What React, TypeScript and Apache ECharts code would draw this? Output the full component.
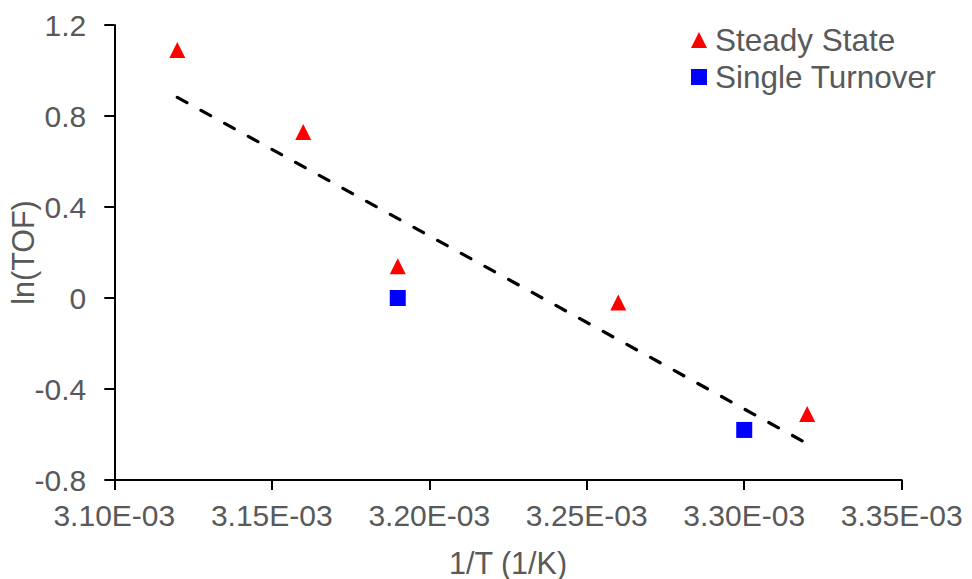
import React, { useEffect, useRef } from "react";
import * as echarts from "echarts";

// 1/T (1/K) and ln(TOF) values
const steadyX = [0.00312, 0.00316, 0.00319, 0.00326, 0.00332];
const steadyY = [1.09, 0.73, 0.14, -0.02, -0.51];
const singleX = [0.00319, 0.0033];
const singleY = [0.0, -0.58];
// linear trendline end points (as drawn)
const trendX = [0.00312, 0.00332];
const trendY = [0.882, -0.64];

const xTicks = { min: 0.0031, max: 0.00335, interval: 0.00005 };
const yTicks = { min: -0.8, max: 1.2, interval: 0.4 };

const FONT = '"Liberation Sans", Arial, sans-serif';
const GREY = "#595959";

function fmtSci(v: number): string {
  const s = v.toExponential(2);
  const [m, e] = s.split("e");
  const n = parseInt(e, 10);
  const sign = n < 0 ? "-" : "+";
  return m + "E" + sign + String(Math.abs(n)).padStart(2, "0");
}

export default function App() {
  const ref = useRef<HTMLDivElement>(null);
  useEffect(() => {
    if (!ref.current) return;
    const chart = echarts.init(ref.current, null, { renderer: "svg" });
    const zip = (xs: number[], ys: number[]) => xs.map((x, i) => [x, ys[i]]);
    chart.setOption({
      animation: false,
      backgroundColor: "#ffffff",
      textStyle: { fontFamily: FONT },
      grid: {
        left: 114.3,
        right: 70.3,
        top: 25,
        bottom: 99,
        containLabel: false,
        outerBoundsMode: "none",
      },
      legend: {
        orient: "vertical",
        left: 691,
        top: 24,
        padding: 0,
        itemGap: 5,
        itemWidth: 16,
        itemHeight: 16,
        data: [
          { name: "Steady State", icon: "triangle" },
          { name: "Single Turnover", icon: "rect" },
        ],
        textStyle: { fontFamily: FONT, fontSize: 31.5, color: GREY, padding: [0, 0, 0, 3] },
      },
      xAxis: {
        type: "value",
        min: xTicks.min,
        max: xTicks.max,
        interval: xTicks.interval,
        name: "1/T (1/K)",
        nameLocation: "middle",
        nameGap: 67,
        nameMoveOverlap: false,
        nameTextStyle: { fontFamily: FONT, fontSize: 30.5, color: GREY },
        axisLine: { show: true, onZero: false, lineStyle: { color: "#000", width: 2 } },
        axisTick: { show: true, inside: false, length: 10, lineStyle: { color: "#000", width: 2 } },
        axisLabel: {
          fontFamily: FONT,
          fontSize: 30,
          color: GREY,
          margin: 20,
          formatter: (v: number) => fmtSci(v),
          showMinLabel: true,
          showMaxLabel: true,
        },
        splitLine: { show: false },
      },
      yAxis: {
        type: "value",
        min: yTicks.min,
        max: yTicks.max,
        interval: yTicks.interval,
        name: "ln(TOF)",
        nameLocation: "middle",
        nameGap: 76,
        nameMoveOverlap: false,
        nameTextStyle: { fontFamily: FONT, fontSize: 30.5, color: GREY },
        axisLine: { show: true, onZero: false, lineStyle: { color: "#000", width: 2 } },
        axisTick: { show: true, inside: false, length: 10, lineStyle: { color: "#000", width: 2 } },
        axisLabel: {
          fontFamily: FONT,
          fontSize: 30,
          color: GREY,
          margin: 28,
          formatter: (v: number) => String(Math.round(v * 10) / 10),
        },
        splitLine: { show: false },
      },
      series: [
        {
          name: "Trend",
          type: "line",
          data: zip(trendX, trendY),
          symbol: "none",
          silent: true,
          z: 1,
          lineStyle: { color: "#000", width: 3.2, type: [11, 16], cap: "round" },
        },
        {
          name: "Steady State",
          type: "scatter",
          symbol: "triangle",
          symbolSize: 16,
          z: 3,
          itemStyle: { color: "#FF0000", opacity: 1 },
          data: zip(steadyX, steadyY),
        },
        {
          name: "Single Turnover",
          type: "scatter",
          symbol: "rect",
          symbolSize: 16,
          z: 3,
          itemStyle: { color: "#0000FF", opacity: 1 },
          data: zip(singleX, singleY),
        },
      ],
    });
    return () => chart.dispose();
  }, []);
  return (
    <div
      ref={ref}
      style={{ position: "fixed", left: 0, top: 0, width: 972, height: 579, background: "#fff" }}
    />
  );
}
